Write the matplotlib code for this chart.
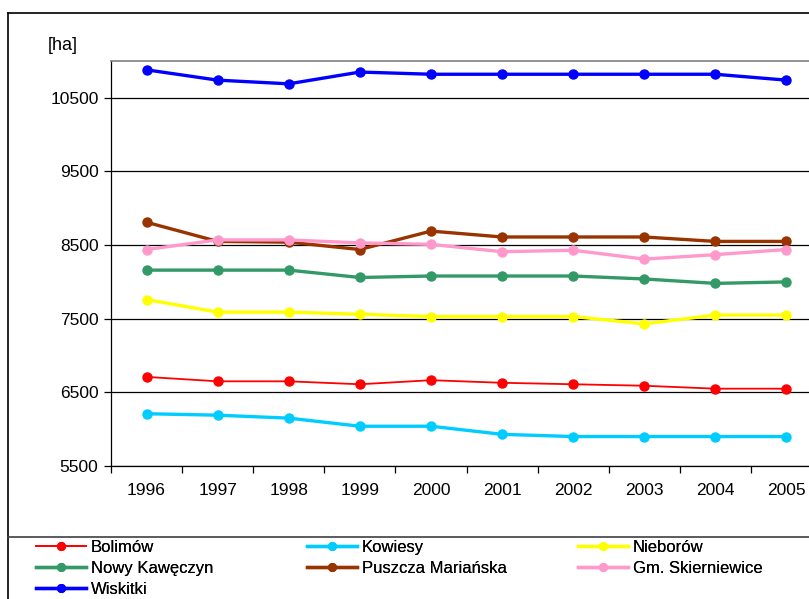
import matplotlib
matplotlib.use('Agg')
import numpy as np
import matplotlib.pyplot as plt
from matplotlib.lines import Line2D

plt.rcParams['font.family'] = ['Liberation Sans', 'DejaVu Sans']

# --- dane ---
lata = ['1996', '1997', '1998', '1999', '2000', '2001', '2002', '2003', '2004', '2005']

bolimow = [6710, 6650, 6650, 6610, 6665, 6630, 6610, 6590, 6550, 6550]
kowiesy = [6210, 6190, 6150, 6040, 6040, 5930, 5900, 5900, 5900, 5900]
nieborow = [7760, 7590, 7590, 7560, 7530, 7530, 7530, 7430, 7550, 7550]
nowy_kaweczyn = [8160, 8160, 8160, 8060, 8080, 8080, 8080, 8040, 7980, 8000]
puszcza = [8810, 8550, 8540, 8440, 8690, 8610, 8610, 8610, 8550, 8550]
skierniewice = [8440, 8570, 8570, 8530, 8510, 8410, 8430, 8310, 8370, 8440]
wiskitki = [10880, 10740, 10690, 10850, 10820, 10820, 10820, 10820, 10820, 10740]

serie = [
    ('Bolimów', bolimow, '#FF0000', 1.3),
    ('Kowiesy', kowiesy, '#00CCFF', 2.4),
    ('Nieborów', nieborow, '#FFFF00', 2.4),
    ('Nowy Kawęczyn', nowy_kaweczyn, '#339966', 2.4),
    ('Puszcza Mariańska', puszcza, '#993300', 2.4),
    ('Gm. Skierniewice', skierniewice, '#FF99CC', 2.4),
    ('Wiskitki', wiskitki, '#0000FF', 2.4),
]

fig = plt.figure(figsize=(8.09, 5.99), dpi=100)
ax = fig.add_axes([111 / 809, 1 - 466 / 599, 711 / 809, 405 / 599])

x = np.arange(len(lata))
uchwyty = {}
for nazwa, wartosci, kolor, lw in serie:
    ln, = ax.plot(x, wartosci, color=kolor, lw=lw, marker='o', markersize=6.5,
                  label=nazwa, clip_on=False, zorder=3)
    uchwyty[nazwa] = ln

# osie
ax.set_xlim(-0.5, len(lata) - 0.5)
ax.set_ylim(5500, 11000)
ax.set_yticks(np.arange(5500, 10501, 1000))
ax.yaxis.grid(True, color='#000000', lw=0.9)
ax.set_axisbelow(True)
ax.set_xticks(np.arange(-0.5, len(lata), 1.0))
ax.set_xticklabels([])
ax.set_xticks(x, minor=True)
ax.set_xticklabels(lata, minor=True)
ax.tick_params(axis='x', which='major', length=5, width=0.9, direction='out')
ax.tick_params(axis='x', which='minor', length=0, pad=12, labelsize=12.5)
ax.tick_params(axis='y', length=5, width=0.9, pad=4, labelsize=12.5)
for s in ['left', 'bottom']:
    ax.spines[s].set_color('black')
    ax.spines[s].set_linewidth(0.9)
ax.spines['top'].set_color('#808080')
ax.spines['top'].set_linewidth(1.2)
ax.spines['right'].set_visible(False)

fig.text(48 / 809, 1 - 46 / 599, '[ha]', fontsize=13, va='center', ha='left')

# ramka zewnetrzna i linia nad legenda
fig.add_artist(Line2D([8 / 809, 8 / 809], [0, 1 - 13 / 599], color='black', lw=1.2,
                      transform=fig.transFigure))
fig.add_artist(Line2D([8 / 809, 1], [1 - 13 / 599, 1 - 13 / 599], color='black', lw=1.2,
                      transform=fig.transFigure))
fig.add_artist(Line2D([8 / 809, 1], [1 - 537 / 599, 1 - 537 / 599], color='#404040', lw=1.2,
                      transform=fig.transFigure))

# legenda w trzech kolumnach
kolumny = [
    (['Bolimów', 'Nowy Kawęczyn', 'Wiskitki'], 36),
    (['Kowiesy', 'Puszcza Mariańska'], 307),
    (['Nieborów', 'Gm. Skierniewice'], 578),
]
for nazwy, x0 in kolumny:
    leg = fig.legend([uchwyty[n] for n in nazwy], nazwy, loc='upper left',
                     bbox_to_anchor=(x0 / 809, 1 - 540 / 599), frameon=False,
                     fontsize=12, handlelength=3.0, handletextpad=0.3,
                     labelspacing=0.36, borderpad=0, borderaxespad=0, markerscale=0.85)
    fig.add_artist(leg)

fig.savefig('out.png', dpi=100)
